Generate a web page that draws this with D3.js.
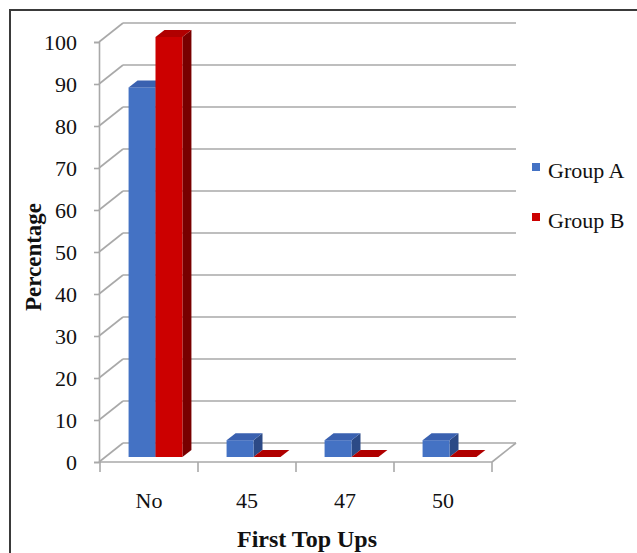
<!DOCTYPE html>
<html>
<head>
<meta charset="utf-8">
<script src="https://cdn.jsdelivr.net/npm/d3@7"></script>
<style>
  html, body { margin: 0; padding: 0; background: #fff; }
  svg { display: block; font-family: "Liberation Serif", "Times New Roman", serif; }
</style>
</head>
<body>
<svg width="637" height="553"></svg>
<script>
"use strict";

// values
const categories = ["No", "45", "47", "50"];
const seriesNames = ["Group A", "Group B"];
const groupA = [88, 4, 4, 4];
const groupB = [100, 0, 0, 0];
const yTicks = [0, 10, 20, 30, 40, 50, 60, 70, 80, 90, 100];
const seriesColors = [
  { front: "#4472c4", top: "#3a61b0", side: "#2c4a86" },
  { front: "#cc0000", top: "#b00000", side: "#780000" },
];

window.addEventListener("load", drawGraph);

function drawGraph() {
  const svg = d3.select("svg");

  // outer frame
  svg.append("rect")
    .attr("x", 10).attr("y", 10)
    .attr("width", 640).attr("height", 560)
    .attr("fill", "none")
    .attr("stroke", "#3a3a3a")
    .attr("stroke-width", 2);

  const plot = { left: 99, right: 492, top: 42, bottom: 462 };
  // depth of the 3d box (back wall offset)
  const wall = { dx: 24, dy: -19 };
  // bar offset from front plane and bar depth
  const barOff = { dx: 6.5, dy: -5 };
  const barDepth = { dx: 9, dy: -7 };

  const x = d3.scaleBand()
    .domain(categories)
    .range([plot.left + 1, plot.right]);

  const y = d3.scaleLinear()
    .domain([0, 100])
    .range([plot.bottom, plot.top]);

  const grid = svg.append("g")
    .attr("stroke", "#a9a9a9")
    .attr("stroke-width", 1.6)
    .attr("fill", "none");

  // back wall gridlines
  grid.selectAll(".grid")
    .data(yTicks)
    .enter()
    .append("line")
    .attr("x1", plot.left + wall.dx)
    .attr("x2", plot.right + wall.dx)
    .attr("y1", (d) => y(d) + wall.dy)
    .attr("y2", (d) => y(d) + wall.dy);

  // left side wall slants
  grid.selectAll(".slant")
    .data(yTicks)
    .enter()
    .append("line")
    .attr("x1", plot.left)
    .attr("x2", plot.left + wall.dx)
    .attr("y1", (d) => y(d))
    .attr("y2", (d) => y(d) + wall.dy);

  // floor front edge and right slant
  grid.append("line")
    .attr("x1", plot.left).attr("x2", plot.right)
    .attr("y1", y(0)).attr("y2", y(0));
  grid.append("line")
    .attr("x1", plot.right).attr("x2", plot.right + wall.dx)
    .attr("y1", y(0)).attr("y2", y(0) + wall.dy);

  // vertical axis
  svg.append("g")
    .attr("transform", `translate(${plot.left},0)`)
    .call(d3.axisLeft(y).tickValues(yTicks).tickSize(5).tickPadding(17))
    .call((g) => g.select(".domain").attr("stroke", "#a9a9a9").attr("stroke-width", 1.6))
    .call((g) => g.selectAll(".tick line").attr("stroke", "#a9a9a9").attr("stroke-width", 1.6))
    .selectAll("text")
    .attr("fill", "#111")
    .style("font-family", "'Liberation Serif', serif")
    .style("font-size", "22px");

  // category axis
  const xAxis = svg.append("g")
    .attr("transform", `translate(0,${plot.bottom})`)
    .call(d3.axisBottom(x).tickSize(0).tickPadding(30));
  xAxis.select(".domain").remove();
  xAxis.selectAll("text")
    .attr("fill", "#111")
    .style("font-family", "'Liberation Serif', serif")
    .style("font-size", "22px");

  // category separators
  const sepX = categories.map((c) => x(c)).concat([x.range()[1]]);
  grid.selectAll(".sep")
    .data(sepX)
    .enter()
    .append("line")
    .attr("x1", (d) => d).attr("x2", (d) => d)
    .attr("y1", plot.bottom).attr("y2", plot.bottom + 10);

  // bars
  const inner = d3.scaleBand()
    .domain(seriesNames)
    .range([0, x.bandwidth()])
    .paddingOuter(0.82)
    .paddingInner(0);

  const values = [groupA, groupB];
  const bars = [];
  categories.forEach((c, i) => {
    seriesNames.forEach((s, j) => {
      bars.push({ cat: c, series: s, idx: j, value: values[j][i] });
    });
  });

  const bw = inner.bandwidth();
  const barG = svg.selectAll(".bar")
    .data(bars)
    .enter()
    .append("g")
    .attr("class", "bar");

  // side face
  barG.append("path")
    .attr("fill", (d) => seriesColors[d.idx].side)
    .attr("d", (d) => {
      const x1 = x(d.cat) + inner(d.series) + bw + barOff.dx;
      const y0 = y(0) + barOff.dy;
      const y1 = y(d.value) + barOff.dy;
      return `M${x1},${y0}L${x1 + barDepth.dx},${y0 + barDepth.dy}` +
        `L${x1 + barDepth.dx},${y1 + barDepth.dy}L${x1},${y1}Z`;
    });

  // front face
  barG.append("rect")
    .attr("fill", (d) => seriesColors[d.idx].front)
    .attr("x", (d) => x(d.cat) + inner(d.series) + barOff.dx)
    .attr("y", (d) => y(d.value) + barOff.dy)
    .attr("width", bw)
    .attr("height", (d) => y(0) - y(d.value));

  // top face
  barG.append("path")
    .attr("fill", (d) => seriesColors[d.idx].top)
    .attr("d", (d) => {
      const x0 = x(d.cat) + inner(d.series) + barOff.dx;
      const y1 = y(d.value) + barOff.dy;
      return `M${x0},${y1}L${x0 + bw},${y1}` +
        `L${x0 + bw + barDepth.dx},${y1 + barDepth.dy}` +
        `L${x0 + barDepth.dx},${y1 + barDepth.dy}Z`;
    });

  // axis titles
  svg.append("text")
    .attr("x", 307)
    .attr("y", 547)
    .attr("text-anchor", "middle")
    .style("font-size", "24px")
    .style("font-weight", "bold")
    .attr("fill", "#111")
    .text("First Top Ups");

  svg.append("text")
    .attr("transform", "translate(41,257) rotate(-90)")
    .attr("text-anchor", "middle")
    .style("font-size", "23px")
    .style("font-weight", "bold")
    .attr("fill", "#111")
    .text("Percentage");

  // legend
  const legend = svg.selectAll(".legend")
    .data(seriesNames)
    .enter()
    .append("g")
    .attr("class", "legend")
    .attr("transform", (d, i) => `translate(532,${163 + i * 50})`);

  legend.append("rect")
    .attr("width", 8)
    .attr("height", 8)
    .attr("fill", (d, i) => seriesColors[i].front);

  legend.append("text")
    .attr("x", 16)
    .attr("y", 15)
    .style("font-size", "22px")
    .attr("fill", "#111")
    .text((d) => d);
}
</script>
</body>
</html>
